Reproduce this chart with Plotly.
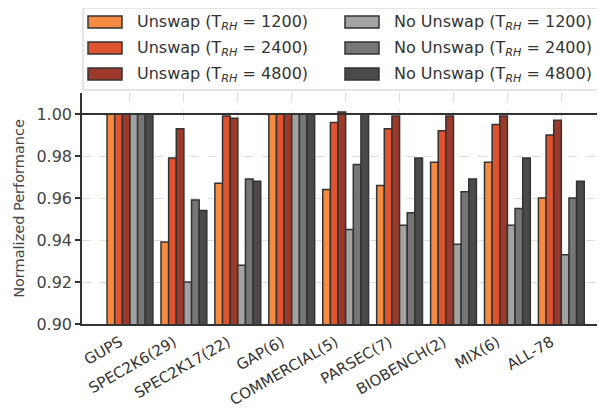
import plotly.graph_objects as go

categories = ["GUPS", "SPEC2K6(29)", "SPEC2K17(22)", "GAP(6)", "COMMERCIAL(5)",
              "PARSEC(7)", "BIOBENCH(2)", "MIX(6)", "ALL-78"]

series_names = [
    "Unswap (T<sub><i>RH</i></sub> = 1200)",
    "Unswap (T<sub><i>RH</i></sub> = 2400)",
    "Unswap (T<sub><i>RH</i></sub> = 4800)",
    "No Unswap (T<sub><i>RH</i></sub> = 1200)",
    "No Unswap (T<sub><i>RH</i></sub> = 2400)",
    "No Unswap (T<sub><i>RH</i></sub> = 4800)",
]

unswap_1200 = [1.000, 0.939, 0.967, 1.000, 0.964, 0.966, 0.977, 0.977, 0.960]
unswap_2400 = [1.000, 0.979, 0.999, 1.000, 0.996, 0.993, 0.992, 0.995, 0.990]
unswap_4800 = [1.000, 0.993, 0.998, 1.000, 1.001, 0.999, 0.999, 0.999, 0.997]
nounswap_1200 = [1.000, 0.920, 0.928, 1.000, 0.945, 0.947, 0.938, 0.947, 0.933]
nounswap_2400 = [1.000, 0.959, 0.969, 1.000, 0.976, 0.953, 0.963, 0.955, 0.960]
nounswap_4800 = [1.000, 0.954, 0.968, 1.000, 1.000, 0.979, 0.969, 0.979, 0.968]

series_values = [unswap_1200, unswap_2400, unswap_4800,
                 nounswap_1200, nounswap_2400, nounswap_4800]
colors = ["#F58A42", "#E0532F", "#9B3A2A", "#A3A3A3", "#767676", "#4A4A4A"]

y_ticks = [0.90, 0.92, 0.94, 0.96, 0.98, 1.00]

# the page body adds an 8px margin; the figure is sized to fit the window
OFF = 8
W, H = 605 - OFF, 411 - OFF
ML, MR, MT, MB = 82 - OFF, 0, 93 - OFF, 87

fig = go.Figure()
xs = list(range(len(categories)))
for name, vals, col in zip(series_names, series_values, colors):
    fig.add_trace(go.Bar(
        x=xs, y=vals, name=name, marker=dict(color=col, line=dict(color="#333333", width=1.5)),
        showlegend=False,
    ))

fig.update_layout(
    width=W, height=H,
    margin=dict(l=ML, r=MR, t=MT, b=MB, pad=0, autoexpand=False),
    paper_bgcolor="white", plot_bgcolor="white",
    barmode="group", bargap=0.15, bargroupgap=0,
    font=dict(family="DejaVu Sans", color="#444444"),
)

fig.update_xaxes(
    range=[-0.89, 8.81],
    tickvals=xs, ticktext=categories, tickangle=-30,
    tickfont=dict(size=15, color="#333333"),
    ticklabelshift=-10, ticklabelstandoff=2,
    showgrid=True, gridcolor="#dddddd", griddash="dash", gridwidth=1,
    showline=True, linecolor="#333333", linewidth=1.5,
    ticks="", zeroline=False, automargin=False,
)
fig.update_yaxes(
    range=[0.90, 1.01],
    tickvals=y_ticks, tickformat=".2f",
    tickfont=dict(size=16, color="#444444"),
    ticks="outside", ticklen=5, tickcolor="#333333", tickwidth=1.5,
    showgrid=True, gridcolor="#dddddd", griddash="dash", gridwidth=1,
    showline=True, linecolor="#333333", linewidth=1.5,
    zeroline=False, automargin=False,
    title=dict(text="Normalized Performance", font=dict(size=14.5, color="#444444"), standoff=8),
)

# reference line at 1.0
fig.add_hline(y=1.0, line=dict(color="#333333", width=2), layer="above")

# manual legend (window pixel -> paper helpers)
pw = W - ML - MR
ph = H - MT - MB
def px(x):
    return (x - OFF - ML) / pw
def py(y):
    return (H - MB - (y - OFF)) / ph

shapes = []
annotations = []
shapes.append(dict(type="rect", xref="paper", yref="paper",
                   x0=px(83), x1=px(598), y0=py(90), y1=py(8),
                   line=dict(color="#cccccc", width=1), fillcolor="white", layer="above"))
row_y = [22, 48, 74]
col_sym_x = [88, 345]
col_txt_x = [135, 392]
for i, (name, col) in enumerate(zip(series_names, colors)):
    c, r = divmod(i, 3)
    yc = row_y[r]
    shapes.append(dict(type="rect", xref="paper", yref="paper",
                       x0=px(col_sym_x[c]), x1=px(col_sym_x[c] + 34),
                       y0=py(yc + 6), y1=py(yc - 6),
                       fillcolor=col, line=dict(color="#333333", width=1.5), layer="above"))
    annotations.append(dict(xref="paper", yref="paper", x=px(col_txt_x[c]), y=py(yc),
                            text=name, showarrow=False, xanchor="left", yanchor="middle",
                            font=dict(size=16, color="#333333", family="DejaVu Sans")))

fig.update_layout(shapes=list(fig.layout.shapes) + shapes, annotations=annotations)

fig.write_html("out.html")
